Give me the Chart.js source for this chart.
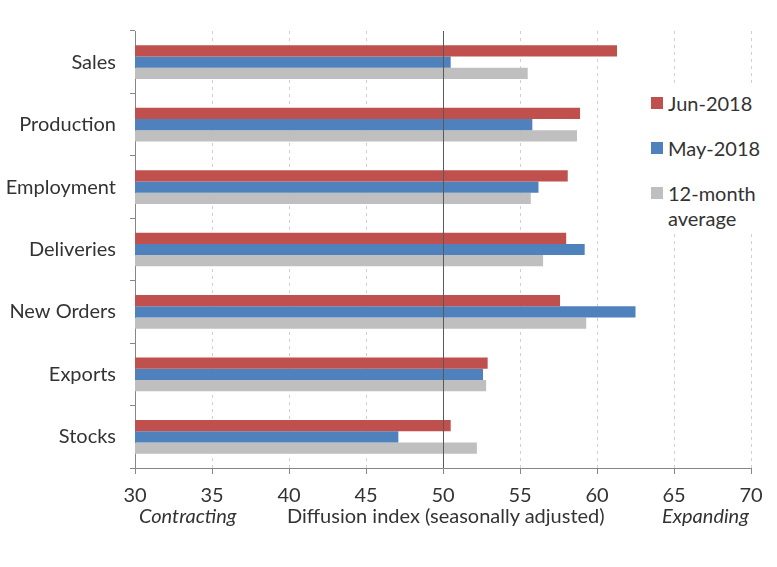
<!DOCTYPE html>
<html>
<head>
<meta charset="utf-8">
<script src="https://cdn.jsdelivr.net/npm/chart.js@4"></script>
<style>
  body { margin: 0; background: #fff; }
  #wrap { position: relative; width: 777px; height: 567px; font-family: Lato, sans-serif; color: #333; }
  .lab { position: absolute; font-size: 20px; white-space: nowrap; line-height: 24px; }
  .legend { position: absolute; left: 645px; top: 86px; width: 120px; height: 148px; background: #fff; }
  .sw { position: absolute; left: 6px; width: 12px; height: 12px; }
</style>
</head>
<body>
<div id="wrap">
  <canvas id="chart"></canvas>
  <div class="legend">
    <div class="sw" style="top:11px;background:#C0504D"></div>
    <div class="lab" style="left:23px;top:5px">Jun-2018</div>
    <div class="sw" style="top:56px;background:#4F81BD"></div>
    <div class="lab" style="left:23px;top:50px">May-2018</div>
    <div class="sw" style="top:101px;background:#BFBFBF"></div>
    <div class="lab" style="left:23px;top:95px">12-month</div>
    <div class="lab" style="left:23px;top:120px">average</div>
  </div>
  <div class="lab" style="left:139px;top:503px;font-style:italic">Contracting</div>
  <div class="lab" style="left:287px;top:503px">Diffusion index (seasonally adjusted)</div>
  <div class="lab" style="left:662px;top:503px;font-style:italic">Expanding</div>
</div>
<script>
let categories = ['Sales', 'Production', 'Employment', 'Deliveries', 'New Orders', 'Exports', 'Stocks'];
let jun2018 = [61.3, 58.9, 58.1, 58.0, 57.6, 52.9, 50.5];
let may2018 = [50.5, 55.8, 56.2, 59.2, 62.5, 52.6, 47.1];
let avg12 = [55.5, 58.7, 55.7, 56.5, 59.3, 52.8, 52.2];
let xTicks = [30, 35, 40, 45, 50, 55, 60, 65, 70];

let axisGray = '#868686';

// solid dark line at 50, drawn over the bars
let fiftyLine = {
    id: 'fiftyLine',
    afterDatasetsDraw: (chart) => {
        let x = Math.round(chart.scales.x.getPixelForValue(50)) + 0.5;
        let area = chart.chartArea;
        let ctx = chart.ctx;
        ctx.save();
        ctx.strokeStyle = '#595959';
        ctx.lineWidth = 1;
        ctx.beginPath();
        ctx.moveTo(x, area.top);
        ctx.lineTo(x, area.bottom);
        ctx.stroke();
        ctx.restore();
    }
};

const ctx = document.getElementById('chart');
const chart = new Chart(ctx, {
    type: 'bar',
    data: {
        labels: categories,
        datasets: [{
            label: 'Jun-2018',
            data: jun2018,
            backgroundColor: '#C0504D'
        }, {
            label: 'May-2018',
            data: may2018,
            backgroundColor: '#4F81BD'
        }, {
            label: '12-month average',
            data: avg12,
            backgroundColor: '#BFBFBF'
        }]
    },
    options: {
        indexAxis: 'y',
        responsive: true,
        maintainAspectRatio: false,
        animation: false,
        categoryPercentage: 0.54,
        barPercentage: 1,
        layout: {
            padding: { top: 31, right: 26, left: 0, bottom: 0 }
        },
        plugins: {
            legend: { display: false },
            tooltip: { enabled: false }
        },
        scales: {
            x: {
                min: 30,
                max: 70,
                afterBuildTicks: (scale) => {
                    scale.ticks = xTicks.map(v => ({ value: v }));
                },
                afterFit: (scale) => {
                    scale.height = 99;
                },
                ticks: {
                    color: '#333',
                    padding: 10,
                    font: { family: 'Lato', size: 20 }
                },
                grid: {
                    color: (c) => (c.tick && (c.tick.value === 50 || c.tick.value === 30)) ? 'rgba(0,0,0,0)' : '#D0D0D0',
                    tickColor: axisGray,
                    tickLength: 6,
                    tickBorderDash: []
                },
                border: {
                    color: axisGray,
                    dash: [3, 4]
                }
            },
            y: {
                afterFit: (scale) => {
                    scale.width = 135;
                },
                ticks: {
                    color: '#333',
                    padding: 14,
                    font: { family: 'Lato', size: 20 }
                },
                grid: {
                    drawOnChartArea: false,
                    tickColor: axisGray,
                    tickLength: 5
                },
                border: {
                    color: axisGray
                }
            }
        }
    },
    plugins: [fiftyLine]
});
</script>
</body>
</html>
